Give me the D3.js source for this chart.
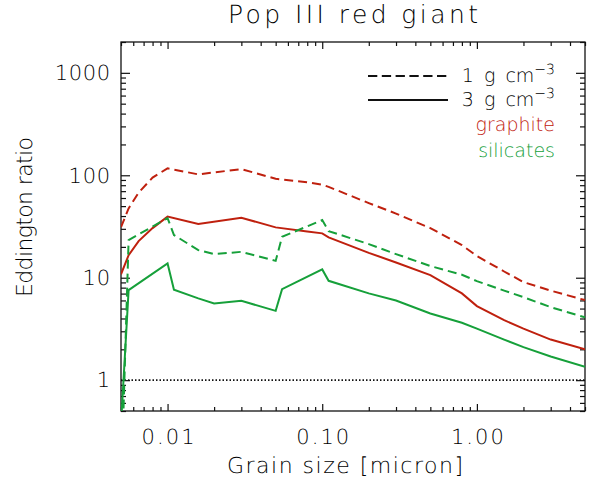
<!DOCTYPE html>
<html><head><meta charset="utf-8">
<script src="https://cdn.jsdelivr.net/npm/d3@7"></script>
<style>
body{margin:0;background:#fff;}
text{font-family:"DejaVu Sans",sans-serif;font-weight:200;fill:#000;text-rendering:geometricPrecision;}
</style>
</head><body><svg id="c" width="595" height="485"></svg>
<script>
// ---- data ----
const titleText = "Pop III red giant";
const xLabel = "Grain size [micron]";
const yLabel = "Eddington ratio";
const xMajor = [0.01, 0.1, 1];
const xMajorLabels = ["0.01", "0.10", "1.00"];
const yMajor = [1, 10, 100, 1000];
const yMajorLabels = ["1", "10", "100", "1000"];

const graphiteSize = [0.005,0.0056,0.0065,0.008,0.01,0.0158,0.03,0.05,0.08,0.1,0.11,0.2,0.3,0.5,0.8,1.0,1.5,2.0,3.0,5.0];
const graphite1 = [31.2,47.5,67.8,95,117,102,115,92.5,85.3,81,77.1,53.5,42.3,30.5,20.8,16.3,11.5,9.06,7.48,6.04];
const graphite3 = [10.8,16.6,22.8,30.5,39.5,33.4,38.5,31,28.3,27.1,24.8,17.5,14.1,10.6,7.03,5.28,3.85,3.18,2.49,2.0];

const silicateSize = [0.005,0.0056,0.01,0.011,0.0158,0.02,0.03,0.05,0.055,0.1,0.11,0.2,0.3,0.5,0.8,1.0,1.5,2.0,3.0,5.0];
const silicate1 = [0.08,23.3,38.2,26.1,18.6,17.0,17.9,14.6,25.1,36.5,28.5,21.3,17.0,13.0,10.7,9.26,7.48,6.46,5.16,4.1];
const silicate3 = [0.37,7.57,13.8,7.62,6.28,5.61,5.95,4.75,7.74,12.05,9.33,7.03,6.0,4.48,3.63,3.18,2.49,2.10,1.70,1.35];

const legendLines = ["1 g cm", "3 g cm"];
const legendSup = "\u22123";
const legendMaterials = ["graphite", "silicates"];

// ---- drawing ----
const RED = "#bf200e", GREEN = "#16a03a";
const L = 121, R = 585, T = 42, B = 411;
const svg = d3.select("#c");
const x = d3.scaleLog().domain([0.005, 5]).range([L, R]);
const y = d3.scaleLog().domain([0.5, 2000]).range([B, T]);

const xMinor = x.ticks().filter(v => !xMajor.some(m => Math.abs(m - v) / m < 1e-6));
const yMinor = y.ticks().filter(v => !yMajor.some(m => Math.abs(m - v) / m < 1e-6));

function styleAxis(g){
  g.select(".domain").remove();
  g.selectAll("line").attr("stroke", "#111").attr("stroke-width", 1.2);
  g.selectAll("text").attr("fill", "#000").style("font-family", '"DejaVu Sans",sans-serif').style("font-weight", 200).attr("font-size", 21);
}

// bottom
svg.append("g").attr("transform", `translate(0,${B})`)
  .call(d3.axisBottom(x).tickValues(xMajor).tickFormat((d,i) => xMajorLabels[i]).tickSizeInner(-7).tickSizeOuter(0).tickPadding(18))
  .call(styleAxis)
  .call(g => g.selectAll("text").attr("textLength", 53).attr("lengthAdjust", "spacing"));
svg.append("g").attr("transform", `translate(0,${B})`)
  .call(d3.axisBottom(x).tickValues(xMinor).tickFormat("").tickSizeInner(-4).tickSizeOuter(0))
  .call(styleAxis);
// top
svg.append("g").attr("transform", `translate(0,${T})`)
  .call(d3.axisTop(x).tickValues(xMajor).tickFormat("").tickSizeInner(-7).tickSizeOuter(0))
  .call(styleAxis);
svg.append("g").attr("transform", `translate(0,${T})`)
  .call(d3.axisTop(x).tickValues(xMinor).tickFormat("").tickSizeInner(-4).tickSizeOuter(0))
  .call(styleAxis);
// left
svg.append("g").attr("transform", `translate(${L},0)`)
  .call(d3.axisLeft(y).tickValues(yMajor).tickFormat((d,i) => yMajorLabels[i]).tickSizeInner(-9).tickSizeOuter(0).tickPadding(11))
  .call(styleAxis)
  .call(g => g.selectAll("text").attr("textLength", (d,i) => yMajorLabels[i].length * 13.8).attr("lengthAdjust", "spacing"));
svg.append("g").attr("transform", `translate(${L},0)`)
  .call(d3.axisLeft(y).tickValues(yMinor).tickFormat("").tickSizeInner(-5).tickSizeOuter(0))
  .call(styleAxis);
// right
svg.append("g").attr("transform", `translate(${R},0)`)
  .call(d3.axisRight(y).tickValues(yMajor).tickFormat("").tickSizeInner(-9).tickSizeOuter(0))
  .call(styleAxis);
svg.append("g").attr("transform", `translate(${R},0)`)
  .call(d3.axisRight(y).tickValues(yMinor).tickFormat("").tickSizeInner(-5).tickSizeOuter(0))
  .call(styleAxis);

svg.append("rect").attr("x", L).attr("y", T).attr("width", R - L).attr("height", B - T)
  .attr("fill", "none").attr("stroke", "#111").attr("stroke-width", 1.3);

// clip
svg.append("clipPath").attr("id", "clip").append("rect")
  .attr("x", L).attr("y", T).attr("width", R - L).attr("height", B - T);

const plot = svg.append("g").attr("clip-path", "url(#clip)");

// dotted line at 1
plot.append("line").attr("x1", L).attr("x2", R).attr("y1", y(1)).attr("y2", y(1))
  .attr("stroke", "#111").attr("stroke-width", 1.6).attr("stroke-dasharray", "1.5,2");

const line = d3.line().x(d => x(d[0])).y(d => y(d[1]));
const series = [
  {xs: graphiteSize, ys: graphite1, color: RED, dash: "9,5"},
  {xs: graphiteSize, ys: graphite3, color: RED, dash: null},
  {xs: silicateSize, ys: silicate1, color: GREEN, dash: "9,5"},
  {xs: silicateSize, ys: silicate3, color: GREEN, dash: null}
];
series.forEach(s => {
  plot.append("path").datum(s.xs.map((v, i) => [v, s.ys[i]]))
    .attr("d", line).attr("fill", "none").attr("stroke", s.color)
    .attr("stroke-width", 2).attr("stroke-dasharray", s.dash);
});

// title
svg.append("text").attr("x", (L + R) / 2).attr("y", 23).attr("text-anchor", "middle")
  .attr("font-size", 25).attr("textLength", 250).attr("lengthAdjust", "spacing").text(titleText);
// x label
svg.append("text").attr("x", 345).attr("y", 473).attr("text-anchor", "middle")
  .attr("font-size", 22).attr("textLength", 236).attr("lengthAdjust", "spacing").text(xLabel);
// y label
svg.append("text").attr("transform", `translate(32,217) rotate(-90)`)
  .attr("text-anchor", "middle").attr("font-size", 22).attr("textLength", 160).attr("lengthAdjust", "spacing").text(yLabel);

// legend
const lg = svg.append("g");
const legY = [76, 100];
legY.forEach((yy, i) => {
  lg.append("line").attr("x1", 368).attr("x2", 448).attr("y1", yy).attr("y2", yy)
    .attr("stroke", "#111").attr("stroke-width", 2).attr("stroke-dasharray", i === 0 ? "9.3,4.5" : null);
  const t = lg.append("text").attr("x", 555).attr("y", yy + 6).attr("text-anchor", "end").attr("font-size", 19)
    .style("word-spacing", "4px");
  t.append("tspan").text(legendLines[i]);
  t.append("tspan").attr("dy", -8).attr("font-size", 14).text(legendSup);
});
lg.append("text").attr("x", 555).attr("y", 131).attr("text-anchor", "end").attr("font-size", 19)
  .style("fill", RED).text(legendMaterials[0]);
lg.append("text").attr("x", 555).attr("y", 157).attr("text-anchor", "end").attr("font-size", 19)
  .style("fill", GREEN).text(legendMaterials[1]);
</script>
</body></html>
